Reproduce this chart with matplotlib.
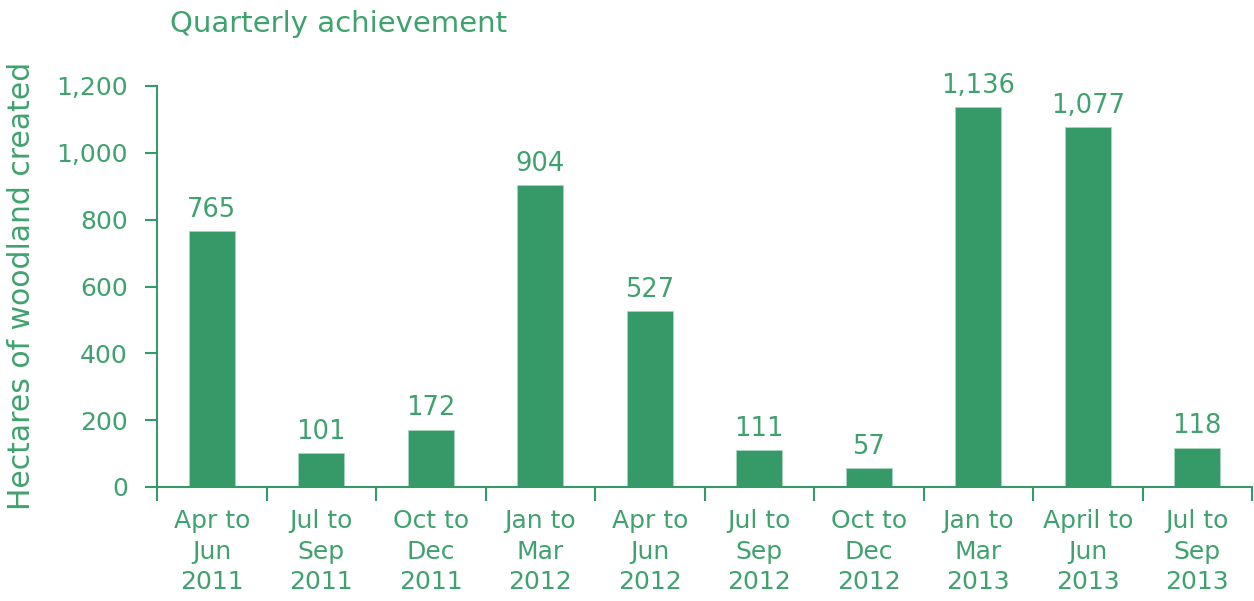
import matplotlib
matplotlib.use("Agg")
import matplotlib.pyplot as plt
import numpy as np

categories = ["Apr to\nJun\n2011", "Jul to\nSep\n2011", "Oct to\nDec\n2011", "Jan to\nMar\n2012",
              "Apr to\nJun\n2012", "Jul to\nSep\n2012", "Oct to\nDec\n2012", "Jan to\nMar\n2013",
              "April to\nJun\n2013", "Jul to\nSep\n2013"]
values = [765, 101, 172, 904, 527, 111, 57, 1136, 1077, 118]
yticks = [0, 200, 400, 600, 800, 1000, 1200]

bar_color = "#359a68"
text_color = "#3fa26e"

plt.rcParams['font.family'] = ['DejaVu Sans']
fig = plt.figure(figsize=(12.54, 6.01), dpi=100)
ax = fig.add_axes([157/1254, 1-487/601, (1252-157)/1254, (487-86)/601])

x = np.arange(len(values))
ax.bar(x, values, width=0.42, color=bar_color, edgecolor="#a8d5bd", linewidth=0.6)
ax.set_xlim(-0.5, len(values)-0.5)
ax.set_ylim(0, 1200)
ax.set_yticks(yticks)
ax.set_yticklabels([f"{v:,}" for v in yticks])
ax.set_xticks(x)
ax.set_xticklabels(categories, linespacing=1.34)
ax.set_xticks(np.arange(-0.5, len(values)), minor=True)
ax.tick_params(axis='x', which='major', length=0, pad=16, labelsize=18, colors=text_color)
ax.tick_params(axis='x', which='minor', length=10, width=1.5, color=bar_color, direction='out')
ax.tick_params(axis='y', length=9, width=1.5, color=bar_color, labelsize=18, labelcolor=text_color, pad=12)
for s in ['top', 'right']:
    ax.spines[s].set_visible(False)
for s in ['left', 'bottom']:
    ax.spines[s].set_color(bar_color)
    ax.spines[s].set_linewidth(1.5)

for xi, v in zip(x, values):
    ax.annotate(f"{v:,}", (xi, v), xytext=(0, 6), textcoords='offset points',
                ha='center', va='bottom', fontsize=18.5, color=text_color)

fig.text(22/1254, 1-286/601, "Hectares of woodland created", fontsize=21.5, color=text_color,
         rotation=90, ha='center', va='center')
fig.text(170/1254, 1-24/601, "Quarterly achievement", fontsize=21, color=text_color,
         ha='left', va='center')

fig.savefig("out.png", dpi=100)
